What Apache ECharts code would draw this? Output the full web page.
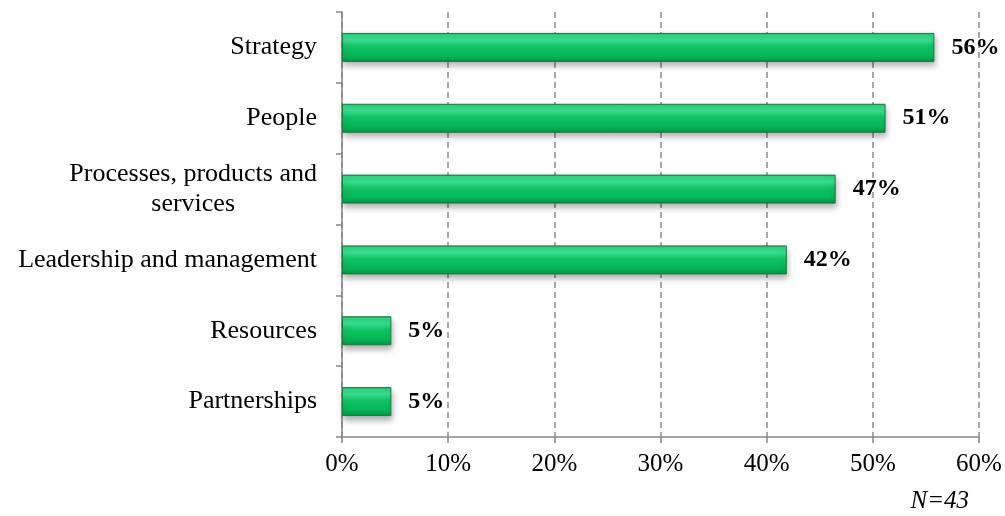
<!DOCTYPE html>
<html>
<head>
<meta charset="utf-8">
<script src="https://cdn.jsdelivr.net/npm/echarts@6/dist/echarts.min.js"></script>
<style>html,body{margin:0;padding:0;background:#fff;}#c{width:1005px;height:516px;}</style>
</head>
<body>
<div id="c"></div>
<script>
var categories = ['Strategy', 'People', 'Processes, products and\nservices', 'Leadership and management', 'Resources', 'Partnerships'];
var values = [55.8, 51.2, 46.5, 41.9, 4.65, 4.65];
var xTicks = [0, 10, 20, 30, 40, 50, 60];
var note = 'N=43';

var chart = echarts.init(document.getElementById('c'), null, {renderer: 'canvas'});
var serif = '"Liberation Serif", "Times New Roman", serif';
chart.setOption({
  animation: false,
  backgroundColor: '#ffffff',
  grid: {left: 342, right: 26, top: 12, bottom: 79, containLabel: false},
  xAxis: {
    type: 'value', min: xTicks[0], max: xTicks[xTicks.length - 1], interval: 10,
    axisLine: {show: true, lineStyle: {color: '#868686', width: 1.5}},
    axisTick: {show: true, length: 6, lineStyle: {color: '#868686', width: 1.5}},
    axisLabel: {margin: 15, color: '#000', fontFamily: serif, fontSize: 25, formatter: function (v) { return v + '%'; }},
    splitLine: {show: true, lineStyle: {color: '#8c8c8c', type: [6, 4], width: 1.5}}
  },
  yAxis: {
    type: 'category', data: categories, inverse: true,
    axisLine: {show: true, lineStyle: {color: '#868686', width: 1.5}},
    axisTick: {show: true, length: 6, lineStyle: {color: '#868686', width: 1.5}},
    axisLabel: {
      margin: 25, color: '#000', fontFamily: serif, fontSize: 26, lineHeight: 30,
      formatter: function (v) {
        return v.split('\n').map(function (s) { return '{c|' + s + '}'; }).join('\n');
      },
      rich: {c: {align: 'center', fontFamily: serif, fontSize: 26, color: '#000', lineHeight: 30}}
    },
    splitLine: {show: false}
  },
  series: [{
    type: 'bar', data: values, barWidth: 29,
    itemStyle: {
      color: new echarts.graphic.LinearGradient(0, 0, 0, 1, [
        {offset: 0, color: '#17a85c'},
        {offset: 0.07, color: '#2fd684'},
        {offset: 0.25, color: '#3ae192'},
        {offset: 0.45, color: '#12c466'},
        {offset: 0.8, color: '#04b557'},
        {offset: 0.94, color: '#039f4b'},
        {offset: 1, color: '#0b7c3e'}
      ]),
      borderColor: '#1b7a43', borderWidth: 1,
      shadowColor: 'rgba(0,0,0,0.3)', shadowBlur: 6, shadowOffsetY: 4, shadowOffsetX: 1
    },
    label: {
      show: true, position: 'right', distance: 17, color: '#000',
      fontFamily: serif, fontSize: 24, fontWeight: 'bold',
      formatter: function (p) { return Math.round(p.value) + '%'; }
    }
  }],
  graphic: [{
    type: 'text', right: 36, top: 489,
    style: {text: note, fontFamily: serif, fontSize: 25, fontStyle: 'italic', fill: '#000'}
  }]
});
</script>
</body>
</html>
